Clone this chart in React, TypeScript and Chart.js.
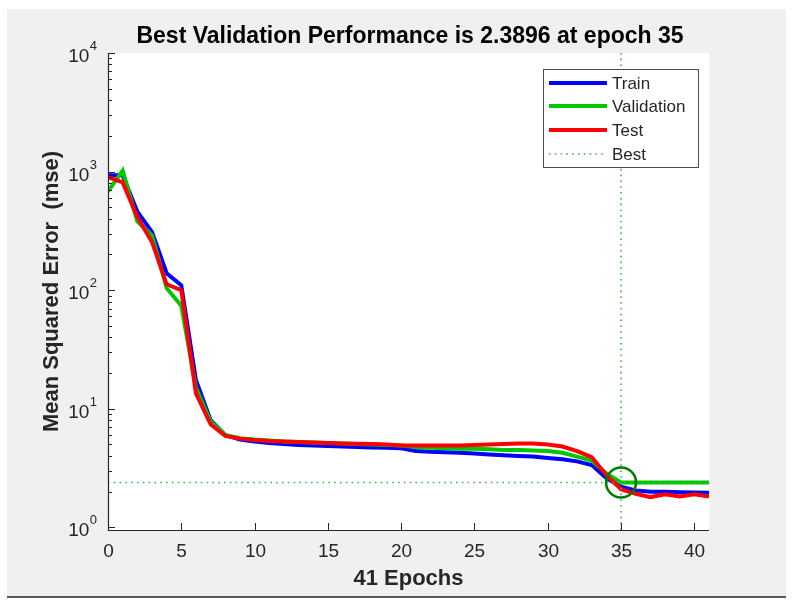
import React, { useEffect, useRef } from "react";
import { Chart, registerables } from "chart.js";

Chart.register(...registerables);

const epochs = [0, 1, 2, 3, 4, 5, 6, 7, 8, 9, 10, 11, 12, 13, 14, 15, 16, 17, 18, 19, 20, 21, 22, 23, 24, 25, 26, 27, 28, 29, 30, 31, 32, 33, 34, 35, 36, 37, 38, 39, 40, 41];
const trainMse = [930, 930, 460, 310, 139, 110, 17.4, 8.0, 6.0, 5.5, 5.3, 5.15, 5.05, 4.95, 4.9, 4.85, 4.8, 4.75, 4.72, 4.7, 4.65, 4.4, 4.35, 4.3, 4.25, 4.2, 4.12, 4.05, 4.0, 3.95, 3.85, 3.75, 3.6, 3.35, 2.6, 2.2, 2.05, 2.0, 2.0, 1.98, 1.97, 1.96];
const validationMse = [680, 1020, 380, 290, 104, 74, 15, 7.8, 6.0, 5.65, 5.5, 5.4, 5.3, 5.25, 5.2, 5.15, 5.1, 5.05, 5.0, 4.95, 4.9, 4.75, 4.7, 4.65, 4.6, 4.6, 4.55, 4.5, 4.5, 4.45, 4.4, 4.25, 3.95, 3.65, 2.85, 2.3896, 2.3896, 2.3896, 2.3896, 2.3896, 2.3896, 2.3896];
const testMse = [900, 810, 415, 255, 112, 100, 13.5, 7.4, 5.9, 5.6, 5.45, 5.35, 5.3, 5.25, 5.2, 5.15, 5.1, 5.08, 5.05, 5.0, 4.9, 4.9, 4.9, 4.9, 4.9, 4.95, 5.0, 5.05, 5.1, 5.1, 5.0, 4.8, 4.4, 3.9, 2.75, 2.1, 1.92, 1.8, 1.9, 1.82, 1.9, 1.82];
const xTicks = [0, 5, 10, 15, 20, 25, 30, 35, 40];
const yExponents = [0, 1, 2, 3, 4];
const bestEpoch = 35;
const bestPerf = 2.3896;
const legendLabels = ["Train", "Validation", "Test", "Best"];
const titleText = "Best Validation Performance is 2.3896 at epoch 35";
const xLabel = "41 Epochs";
const yLabel = "Mean Squared Error  (mse)";

const X_MIN = 0;
const X_MAX = 41;
const Y_MIN = 0.95;
const Y_MAX = 10000;

const BLUE = "#0000ff";
const GREEN = "#00c800";
const RED = "#ff0000";
const DOT_GREEN = "#3cb83c";
const DARK_GREEN = "#007a00";
const TEXT = "#262626";
const FONT = '"Liberation Sans", Arial, Helvetica, sans-serif';

const decorPlugin = {
  id: "matlabDecor",
  beforeDraw(chart: any) {
    const ctx = chart.ctx;
    const a = chart.chartArea;
    ctx.save();
    ctx.fillStyle = "#ffffff";
    ctx.fillRect(0, 0, chart.width, chart.height);
    ctx.fillStyle = "#f0f0f0";
    ctx.fillRect(7, 9, 779, 588);
    ctx.fillStyle = "#5a5a5a";
    ctx.fillRect(7, 596, 779, 2);
    ctx.fillStyle = "#ffffff";
    ctx.fillRect(a.left, a.top, a.right - a.left, a.bottom - a.top);
    ctx.restore();
  },
  afterDraw(chart: any) {
    const ctx = chart.ctx;
    const a = chart.chartArea;
    const xs = chart.scales.x;
    const ys = chart.scales.y;
    ctx.save();
    ctx.strokeStyle = TEXT;
    ctx.lineWidth = 1.2;
    ctx.beginPath();
    ctx.moveTo(a.left + 0.5, a.top);
    ctx.lineTo(a.left + 0.5, a.bottom + 0.5);
    ctx.lineTo(a.right, a.bottom + 0.5);
    ctx.stroke();
    ctx.lineWidth = 1;
    ctx.fillStyle = TEXT;
    ctx.font = `19px ${FONT}`;
    ctx.textAlign = "center";
    ctx.textBaseline = "middle";
    xTicks.forEach((t) => {
      const px = Math.round(xs.getPixelForValue(t)) + 0.5;
      ctx.beginPath();
      ctx.moveTo(px, a.bottom);
      ctx.lineTo(px, a.bottom - 7);
      ctx.stroke();
      ctx.fillText(String(t), px, 552);
    });
    yExponents.forEach((e) => {
      const base = Math.pow(10, e);
      const py = Math.round(ys.getPixelForValue(base)) + 0.5;
      ctx.beginPath();
      ctx.moveTo(a.left, py);
      ctx.lineTo(a.left + 7, py);
      ctx.stroke();
      if (e < yExponents[yExponents.length - 1]) {
        for (let m = 2; m <= 9; m++) {
          const my = Math.round(ys.getPixelForValue(base * m)) + 0.5;
          ctx.beginPath();
          ctx.moveTo(a.left, my);
          ctx.lineTo(a.left + 4, my);
          ctx.stroke();
        }
      }
      ctx.textAlign = "right";
      ctx.textBaseline = "middle";
      ctx.font = `13px ${FONT}`;
      const expW = ctx.measureText(String(e)).width;
      ctx.fillText(String(e), 97, py - 7);
      ctx.font = `19px ${FONT}`;
      ctx.fillText("10", 97 - expW - 0.5, py + 3);
    });
    ctx.textAlign = "center";
    ctx.textBaseline = "middle";
    ctx.fillStyle = "#000000";
    ctx.font = `bold 23px ${FONT}`;
    ctx.fillText(titleText, 410, 37);
    ctx.fillStyle = TEXT;
    ctx.font = `bold 22px ${FONT}`;
    ctx.fillText(xLabel, (a.left + a.right) / 2, 579);
    ctx.save();
    ctx.translate(52, (a.top + a.bottom) / 2);
    ctx.rotate(-Math.PI / 2);
    ctx.fillText(yLabel, 0, 0);
    ctx.restore();
    const lx = 543;
    const ly = 69;
    const lw = 155;
    const lh = 98;
    ctx.fillStyle = "#ffffff";
    ctx.fillRect(lx, ly, lw, lh);
    ctx.strokeStyle = "#4d4d4d";
    ctx.lineWidth = 1;
    ctx.strokeRect(lx + 0.5, ly + 0.5, lw, lh);
    const colors = [BLUE, GREEN, RED, DOT_GREEN];
    const rowsY = [83, 106, 130, 154];
    legendLabels.forEach((lab, i) => {
      const y = rowsY[i];
      ctx.beginPath();
      ctx.strokeStyle = colors[i];
      if (i < 3) {
        ctx.lineWidth = 4;
        ctx.setLineDash([]);
      } else {
        ctx.lineWidth = 1.6;
        ctx.setLineDash([1.6, 4.2]);
      }
      ctx.moveTo(549, y);
      ctx.lineTo(607, y);
      ctx.stroke();
      ctx.setLineDash([]);
      ctx.fillStyle = TEXT;
      ctx.font = `17px ${FONT}`;
      ctx.textAlign = "left";
      ctx.textBaseline = "middle";
      ctx.fillText(lab, 612, y + 1);
    });
    ctx.restore();
  },
};

export default function App() {
  const ref = useRef<HTMLCanvasElement | null>(null);
  useEffect(() => {
    if (!ref.current) return;
    const mk = (arr: number[]) => epochs.map((e, i) => ({ x: e, y: arr[i] }));
    const chart = new Chart(ref.current, {
      type: "line",
      data: {
        datasets: [
          { label: "Train", data: mk(trainMse), borderColor: BLUE, borderWidth: 4, pointRadius: 0, tension: 0, order: 6 },
          { label: "Validation", data: mk(validationMse), borderColor: GREEN, borderWidth: 4, pointRadius: 0, tension: 0, order: 5 },
          { label: "Test", data: mk(testMse), borderColor: RED, borderWidth: 4, pointRadius: 0, tension: 0, order: 4 },
          {
            label: "BestV",
            data: [{ x: bestEpoch, y: Y_MIN }, { x: bestEpoch, y: Y_MAX }],
            borderColor: DOT_GREEN, borderWidth: 1.6, borderDash: [1.6, 4.2], pointRadius: 0, order: 3,
          },
          {
            label: "BestH",
            data: [{ x: X_MIN, y: bestPerf }, { x: X_MAX, y: bestPerf }],
            borderColor: DOT_GREEN, borderWidth: 1.6, borderDash: [1.6, 4.2], pointRadius: 0, order: 2,
          },
          {
            label: "Circle",
            data: [{ x: bestEpoch, y: bestPerf }],
            showLine: false, pointRadius: 15, pointStyle: "circle",
            pointBorderColor: DARK_GREEN, pointBackgroundColor: "rgba(0,0,0,0)", pointBorderWidth: 2.5,
            borderColor: DARK_GREEN, order: 1, clip: false,
          } as any,
        ],
      },
      options: {
        responsive: false,
        animation: false,
        events: [],
        layout: { padding: { left: 108, top: 53, right: 84, bottom: 75 } },
        plugins: { legend: { display: false }, tooltip: { enabled: false }, title: { display: false } },
        scales: {
          x: {
            type: "linear", min: X_MIN, max: X_MAX,
            grid: { display: false }, border: { display: false }, ticks: { display: false },
            afterFit: (s: any) => { s.height = 0; },
          },
          y: {
            type: "logarithmic", min: Y_MIN, max: Y_MAX,
            grid: { display: false }, border: { display: false }, ticks: { display: false },
            afterFit: (s: any) => { s.width = 0; },
          },
        },
      } as any,
      plugins: [decorPlugin],
    });
    return () => chart.destroy();
  }, []);
  return (
    <canvas
      ref={ref}
      width={793}
      height={605}
      style={{ position: "fixed", left: 0, top: 0, width: 793, height: 605 }}
    />
  );
}
